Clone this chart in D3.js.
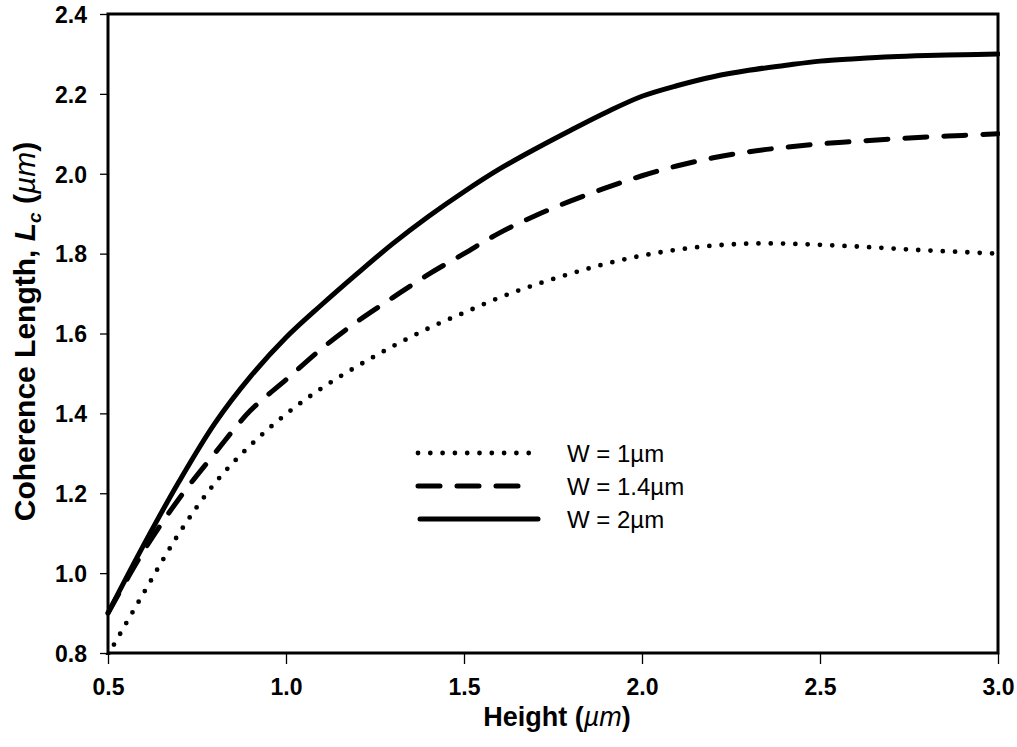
<!DOCTYPE html>
<html>
<head>
<meta charset="utf-8">
<script src="https://cdn.jsdelivr.net/npm/d3@7"></script>
<style>
  body { margin: 0; background: #fff; }
  svg { display: block; font-family: Arial, "Liberation Sans", sans-serif; }
</style>
</head>
<body>
<svg id="chart" width="1017" height="747"></svg>
<script>
const heights = [0.5, 0.6, 0.7, 0.8, 0.9, 1.0, 1.1, 1.2, 1.3, 1.4, 1.5, 1.6, 1.7,
  1.8, 1.9, 2.0, 2.1, 2.2, 2.3, 2.4, 2.5, 2.6, 2.7, 2.8, 2.9, 3.0];

// Coherence length for each waveguide width.
const w1 = [0.795, 0.95, 1.10, 1.225, 1.32, 1.398, 1.463, 1.518, 1.568, 1.613, 1.652,
  1.69, 1.722, 1.75, 1.775, 1.795, 1.81, 1.82, 1.825, 1.825, 1.822, 1.818, 1.813,
  1.808, 1.804, 1.80];
const w14 = [0.90, 1.055, 1.187, 1.30, 1.407, 1.484, 1.562, 1.63, 1.69, 1.748, 1.80,
  1.852, 1.895, 1.932, 1.965, 1.995, 2.02, 2.04, 2.055, 2.066, 2.075, 2.081, 2.087,
  2.092, 2.096, 2.10];
const w2 = [0.90, 1.07, 1.23, 1.375, 1.492, 1.59, 1.672, 1.75, 1.825, 1.893, 1.955,
  2.012, 2.062, 2.109, 2.154, 2.194, 2.221, 2.243, 2.259, 2.271, 2.282, 2.288, 2.293,
  2.296, 2.298, 2.30];

const seriesNames = ['W = 1\u00b5m', 'W = 1.4\u00b5m', 'W = 2\u00b5m'];
const xTicks = [0.5, 1.0, 1.5, 2.0, 2.5, 3.0];
const yTicks = [0.8, 1.0, 1.2, 1.4, 1.6, 1.8, 2.0, 2.2, 2.4];

const margin = {top: 14, right: 19, bottom: 94, left: 108};
const width = 1017 - margin.left - margin.right;
const height = 747 - margin.top - margin.bottom;

const svg = d3.select('#chart');
const g = svg.append('g').attr('transform', `translate(${margin.left},${margin.top})`);

const x = d3.scaleLinear().domain([0.5, 3.0]).range([0, width]);
const y = d3.scaleLinear().domain([0.8, 2.4]).range([height, 0]);

// Line styles per series: dotted, dashed, solid.
const styles = [
  {dash: '0 12.3', width: 4.8},
  {dash: '22 17', width: 5},
  {dash: null, width: 5},
];

const series = [w1, w14, w2].map((vals, i) => ({
  name: seriesNames[i],
  points: heights.map((h, j) => [h, vals[j]]),
  style: styles[i],
}));

const line = d3.line()
  .x((d) => x(d[0]))
  .y((d) => y(d[1]))
  .curve(d3.curveCatmullRom.alpha(0.5));

g.append('defs').append('clipPath').attr('id', 'plot-clip')
  .append('rect').attr('x', -4).attr('y', -4).attr('width', width + 6).attr('height', height + 6);

g.append('g').attr('clip-path', 'url(#plot-clip)')
  .selectAll('path')
  .data(series)
  .join('path')
  .attr('d', (d) => line(d.points))
  .attr('fill', 'none')
  .attr('stroke', '#000')
  .attr('stroke-width', (d) => d.style.width)
  .attr('stroke-dasharray', (d) => d.style.dash)
  .attr('stroke-linecap', 'round')
  .attr('stroke-linejoin', 'round');

// Axes: ticks outside, labels bold.
const xAxis = g.append('g')
  .attr('transform', `translate(0,${height})`)
  .call(d3.axisBottom(x).tickValues(xTicks).tickFormat(d3.format('.1f')).tickSize(11).tickPadding(15));
const yAxis = g.append('g')
  .call(d3.axisLeft(y).tickValues(yTicks).tickFormat(d3.format('.1f')).tickSize(8).tickPadding(13));

[xAxis, yAxis].forEach((ax) => {
  ax.select('.domain').remove();
  ax.selectAll('line').attr('stroke', '#000').attr('stroke-width', 1.3);
  ax.selectAll('text')
    .attr('fill', '#000')
    .style('font-size', '23px')
    .style('font-weight', 'bold');
});
yAxis.selectAll('text').attr('dy', '0.36em');

// Plot frame.
g.append('rect')
  .attr('width', width)
  .attr('height', height)
  .attr('fill', 'none')
  .attr('stroke', '#000')
  .attr('stroke-width', 3);

// Axis titles.
const xTitle = svg.append('text')
  .attr('x', margin.left + width / 2 + 4)
  .attr('y', 726)
  .attr('text-anchor', 'middle')
  .style('font-size', '27px')
  .style('font-weight', 'bold');
xTitle.append('tspan').text('Height (');
xTitle.append('tspan').style('font-style', 'italic').style('font-weight', 'normal').text('\u00b5m');
xTitle.append('tspan').text(')');

const yTitle = svg.append('text')
  .attr('transform', `translate(35,${margin.top + height / 2 - 2}) rotate(-90)`)
  .attr('text-anchor', 'middle')
  .style('font-size', '30px')
  .style('font-weight', 'bold');
yTitle.append('tspan').text('Coherence Length, ');
yTitle.append('tspan').style('font-style', 'italic').text('L');
yTitle.append('tspan').style('font-style', 'italic').style('font-size', '19px')
  .attr('dy', 6).text('c');
yTitle.append('tspan').attr('dy', -6).text(' (');
yTitle.append('tspan').style('font-style', 'italic').style('font-weight', 'normal').text('\u00b5m');
yTitle.append('tspan').text(')');

// Legend.
const legend = svg.append('g').attr('transform', 'translate(418,453)');
const legendRow = legend.selectAll('g')
  .data(series)
  .join('g')
  .attr('transform', (d, i) => `translate(0,${i * 33})`);

legendRow.append('line')
  .attr('x1', (d, i) => (i === 2 ? 2 : 0))
  .attr('x2', (d, i) => [116, 110, 120][i])
  .attr('stroke', '#000')
  .attr('stroke-width', (d) => d.style.width)
  .attr('stroke-dasharray', (d) => d.style.dash)
  .attr('stroke-linecap', 'round');

legendRow.append('text')
  .attr('x', 149)
  .attr('dy', '0.36em')
  .style('font-size', '24px')
  .text((d) => d.name);
</script>
</body>
</html>
